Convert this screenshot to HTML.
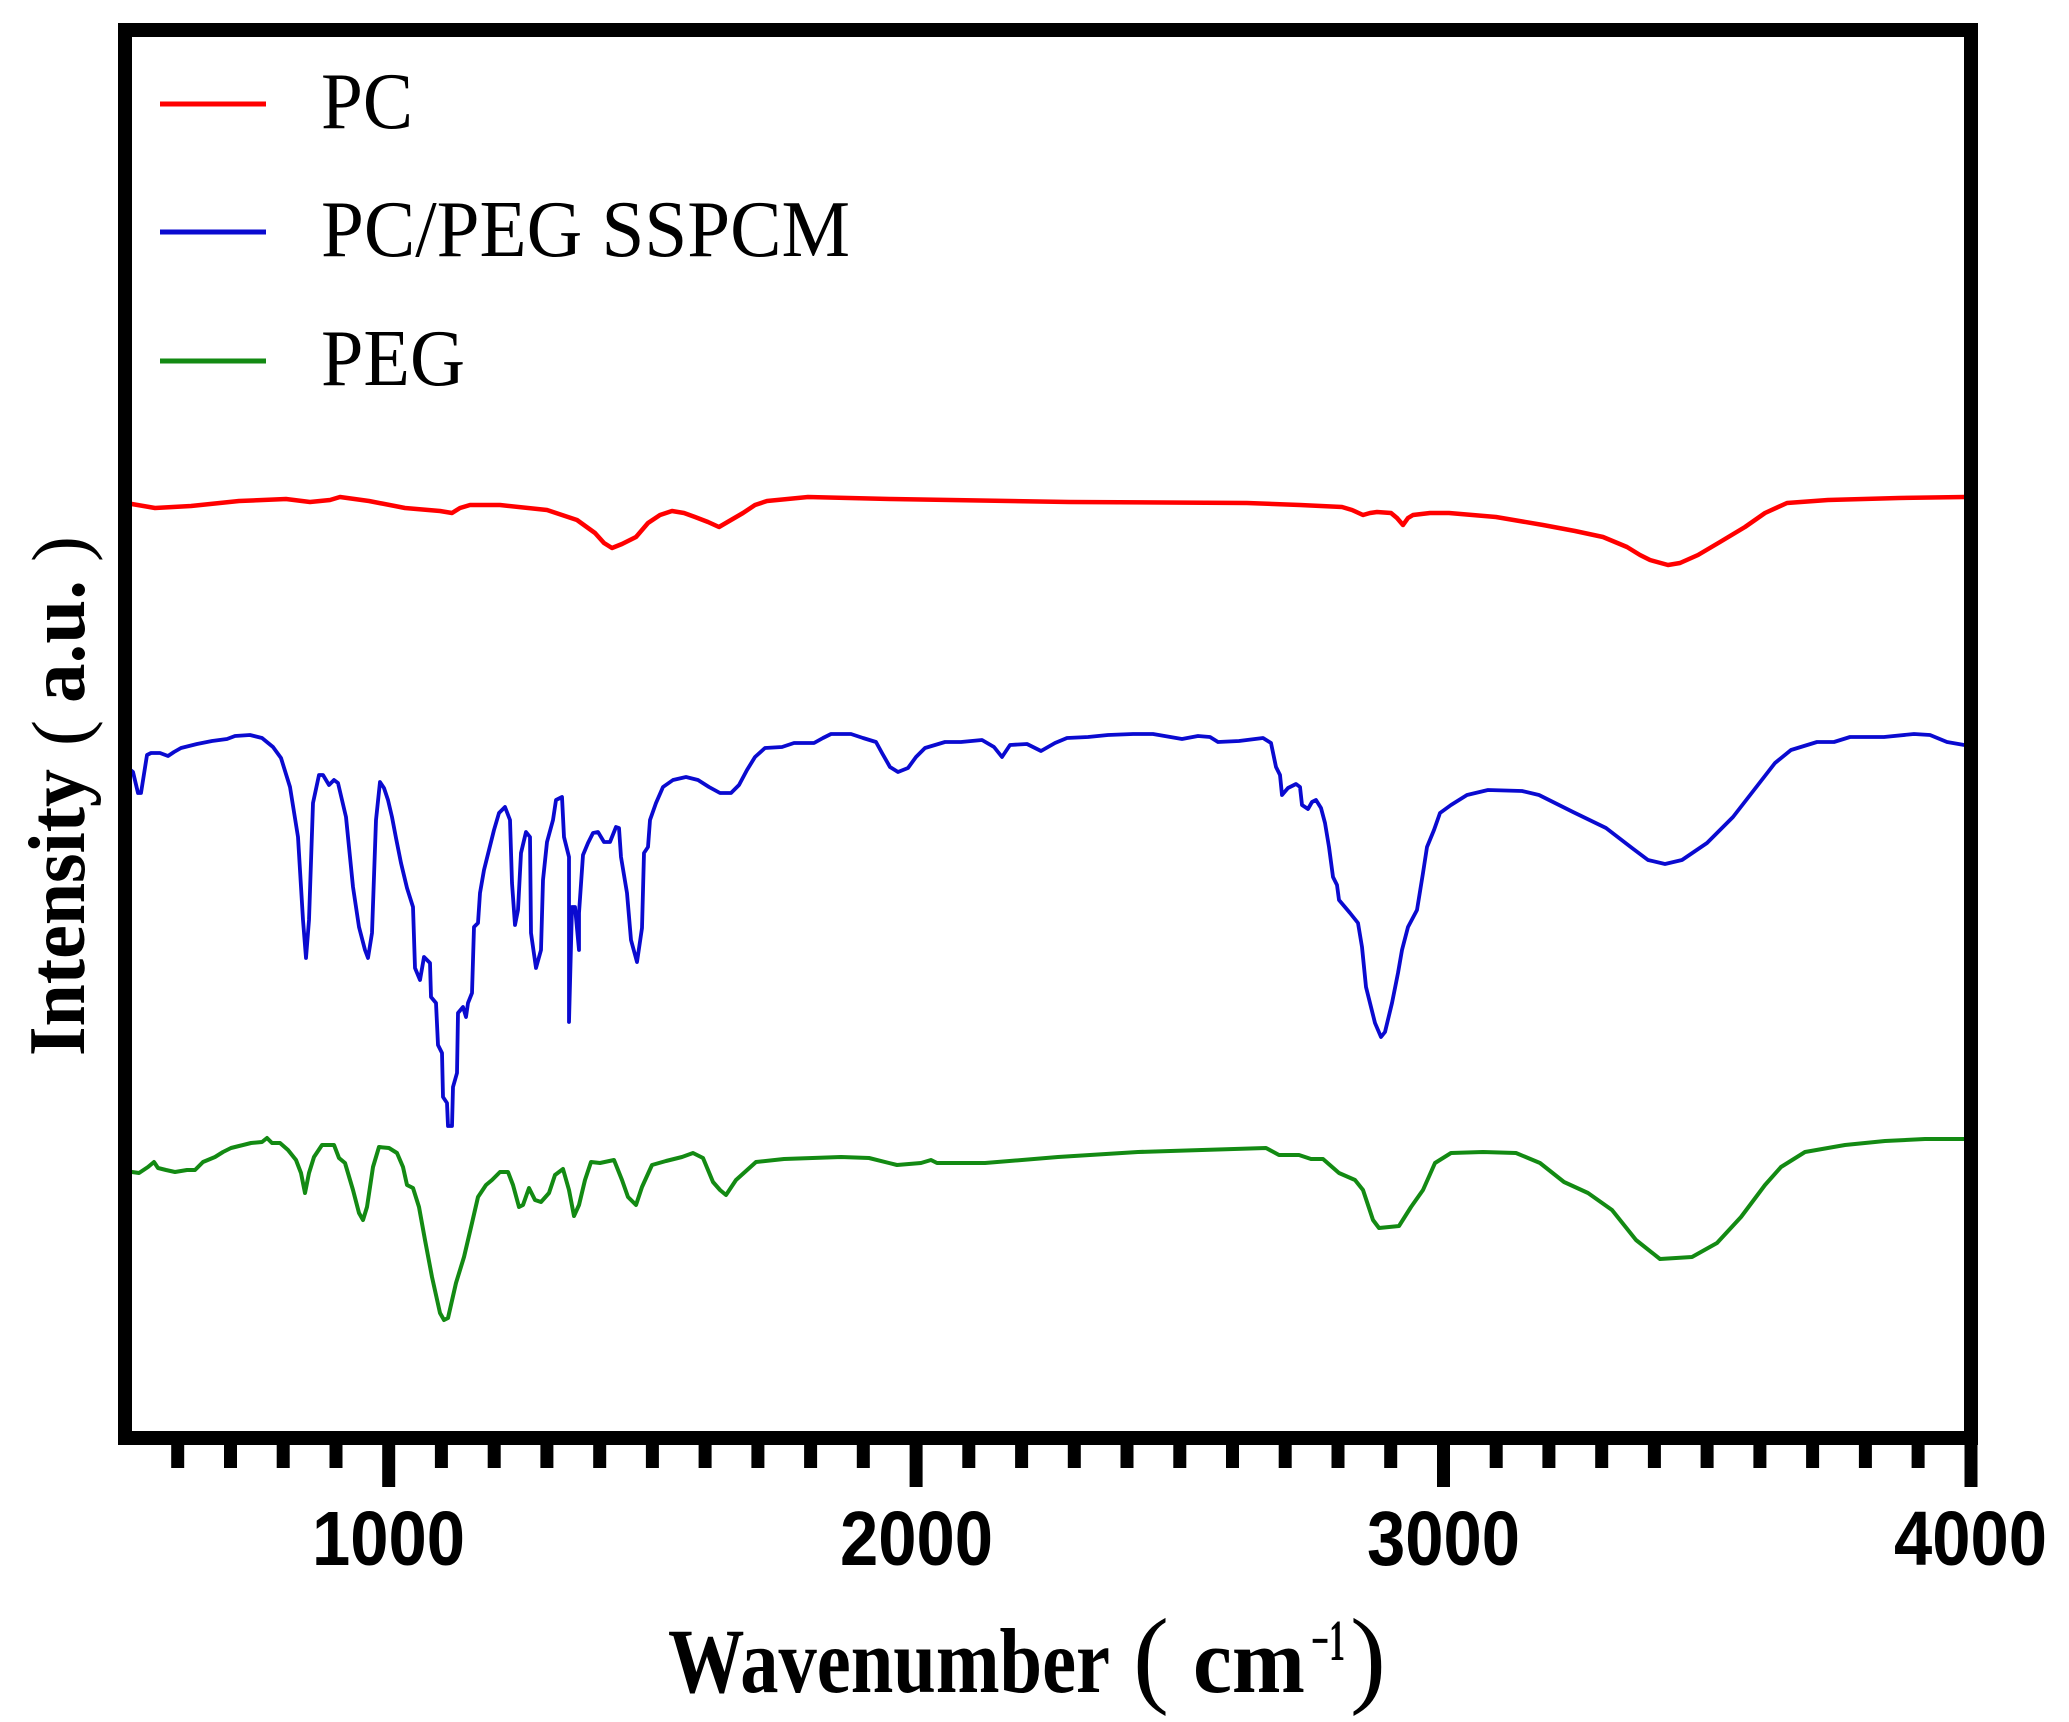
<!DOCTYPE html>
<html>
<head>
<meta charset="utf-8">
<style>
html,body{margin:0;padding:0;background:#fff;}
svg{display:block;}
</style>
</head>
<body>
<svg width="2069" height="1722" viewBox="0 0 2069 1722" xmlns="http://www.w3.org/2000/svg">
<rect x="0" y="0" width="2069" height="1722" fill="#fff"/>

<!-- series -->
<polyline fill="none" stroke="#ff0000" stroke-width="4.5" stroke-linejoin="round" points="126,503 155,508 191,506 239,501 286,499 310,502 330,500 340,497 369,501 405,508 440,511 452,513 460,508 470,505 500,505 547,510 577,520 595,533 604,543 612,548 622,544 636,537 648,523 660,515 672,511 684,513 695,517 708,522 719,527 731,520 743,513 755,505 767,501 808,497 891,499 1069,502 1247,503 1300,505 1342,507 1352,510 1363,515 1370,513 1377,512 1391,513 1397,518 1403,525 1408,518 1413,515 1430,513 1449,513 1496,517 1543,525 1575,531 1603,537 1627,547 1640,555 1650,560 1668,565 1680,563 1698,555 1720,542 1745,527 1765,513 1787,503 1828,500 1899,498 1965,497"/>

<polyline fill="none" stroke="#0a0ad0" stroke-width="3.8" stroke-linejoin="round" points="125,757 128,768 133,772 138,793 141,793 147,755 151,753 160,753 168,756 174,752 181,748 197,744 212,741 227,739 235,736 250,735 262,738 273,747 281,758 290,787 298,837 303,920 306,958 309,920 313,803 319,775 323,775 329,785 334,780 338,783 346,817 353,887 359,927 365,950 368,958 372,933 376,820 380,782 384,788 388,800 392,817 396,838 401,863 407,888 413,907 415,968 420,980 424,957 430,963 431,997 436,1003 438,1045 442,1053 443,1097 447,1103 448,1126 452,1126 453,1087 457,1073 458,1013 463,1007 466,1017 468,1003 472,993 474,927 478,923 480,893 484,870 489,850 494,830 499,813 505,807 510,820 512,883 515,925 518,910 521,853 526,832 530,837 531,933 536,968 541,950 543,880 547,842 553,820 556,800 562,797 564,837 569,857 569,1022 572,907 575,907 579,950 579,913 583,855 588,843 593,833 598,832 604,842 610,842 616,827 619,828 621,857 627,893 631,940 637,962 642,928 644,853 648,847 650,820 656,803 663,787 673,780 686,777 698,780 709,787 720,793 731,793 739,785 747,770 755,757 765,748 782,747 794,743 814,743 823,738 831,734 851,734 863,738 876,742 882,753 890,767 898,772 908,768 916,757 925,748 945,742 961,742 982,740 994,747 1002,757 1010,745 1027,744 1041,751 1055,743 1067,738 1088,737 1108,735 1133,734 1153,734 1182,739 1198,736 1210,737 1218,742 1239,741 1263,738 1271,743 1276,767 1280,775 1282,795 1288,788 1296,784 1300,787 1302,805 1308,809 1312,802 1316,800 1321,808 1325,823 1329,847 1333,877 1337,885 1339,900 1350,913 1358,923 1362,947 1366,987 1371,1007 1375,1023 1381,1037 1385,1032 1392,1003 1398,973 1402,950 1408,927 1417,910 1423,873 1427,847 1434,830 1440,813 1451,805 1467,795 1488,790 1522,791 1539,795 1573,812 1606,828 1632,848 1648,860 1665,864 1682,860 1707,843 1733,817 1754,790 1775,763 1791,750 1817,742 1834,742 1850,737 1884,737 1914,734 1930,735 1947,742 1970,746"/>

<polyline fill="none" stroke="#138a13" stroke-width="4" stroke-linejoin="round" points="124,1170 132,1172 139,1173 148,1167 154,1162 158,1168 166,1170 175,1172 187,1170 195,1170 203,1162 215,1157 223,1152 231,1148 239,1146 251,1143 262,1142 267,1138 272,1143 280,1143 288,1150 296,1160 301,1173 305,1193 309,1173 314,1157 322,1145 334,1145 339,1158 345,1163 353,1190 359,1213 363,1220 367,1207 373,1167 379,1147 389,1148 397,1153 403,1167 407,1185 413,1188 419,1207 425,1240 432,1277 440,1313 444,1320 448,1318 456,1283 464,1257 472,1223 478,1197 486,1185 492,1180 500,1172 508,1172 513,1185 519,1207 523,1205 529,1188 535,1200 541,1202 549,1193 555,1175 563,1169 569,1190 574,1216 579,1205 585,1180 591,1162 600,1163 614,1160 622,1180 628,1197 636,1205 642,1187 652,1165 666,1161 682,1157 693,1153 703,1158 713,1182 720,1190 726,1195 736,1180 756,1162 784,1159 841,1157 869,1158 897,1165 921,1163 931,1160 937,1163 985,1163 1058,1157 1138,1152 1202,1150 1266,1148 1279,1155 1299,1155 1311,1159 1323,1159 1339,1173 1355,1180 1363,1190 1373,1220 1379,1228 1399,1226 1411,1207 1423,1190 1435,1163 1451,1153 1483,1152 1516,1153 1540,1163 1564,1182 1588,1193 1612,1210 1636,1240 1660,1259 1692,1257 1717,1243 1741,1217 1765,1185 1781,1167 1805,1152 1845,1145 1885,1141 1925,1139 1966,1139"/>

<!-- frame -->
<rect x="125" y="30" width="1846" height="1408" fill="none" stroke="#000" stroke-width="14" stroke-linejoin="miter"/>

<!-- ticks -->
<g stroke="#000" stroke-width="13">
<line x1="177.7" y1="1438" x2="177.7" y2="1468"/>
<line x1="230.5" y1="1438" x2="230.5" y2="1468"/>
<line x1="283.2" y1="1438" x2="283.2" y2="1468"/>
<line x1="336.0" y1="1438" x2="336.0" y2="1468"/>
<line x1="388.7" y1="1438" x2="388.7" y2="1487"/>
<line x1="441.4" y1="1438" x2="441.4" y2="1468"/>
<line x1="494.2" y1="1438" x2="494.2" y2="1468"/>
<line x1="546.9" y1="1438" x2="546.9" y2="1468"/>
<line x1="599.7" y1="1438" x2="599.7" y2="1468"/>
<line x1="652.4" y1="1438" x2="652.4" y2="1468"/>
<line x1="705.1" y1="1438" x2="705.1" y2="1468"/>
<line x1="757.9" y1="1438" x2="757.9" y2="1468"/>
<line x1="810.6" y1="1438" x2="810.6" y2="1468"/>
<line x1="863.3" y1="1438" x2="863.3" y2="1468"/>
<line x1="916.1" y1="1438" x2="916.1" y2="1487"/>
<line x1="968.8" y1="1438" x2="968.8" y2="1468"/>
<line x1="1021.6" y1="1438" x2="1021.6" y2="1468"/>
<line x1="1074.3" y1="1438" x2="1074.3" y2="1468"/>
<line x1="1127.0" y1="1438" x2="1127.0" y2="1468"/>
<line x1="1179.8" y1="1438" x2="1179.8" y2="1468"/>
<line x1="1232.5" y1="1438" x2="1232.5" y2="1468"/>
<line x1="1285.2" y1="1438" x2="1285.2" y2="1468"/>
<line x1="1338.0" y1="1438" x2="1338.0" y2="1468"/>
<line x1="1390.7" y1="1438" x2="1390.7" y2="1468"/>
<line x1="1443.5" y1="1438" x2="1443.5" y2="1487"/>
<line x1="1496.2" y1="1438" x2="1496.2" y2="1468"/>
<line x1="1548.9" y1="1438" x2="1548.9" y2="1468"/>
<line x1="1601.7" y1="1438" x2="1601.7" y2="1468"/>
<line x1="1654.4" y1="1438" x2="1654.4" y2="1468"/>
<line x1="1707.1" y1="1438" x2="1707.1" y2="1468"/>
<line x1="1759.9" y1="1438" x2="1759.9" y2="1468"/>
<line x1="1812.6" y1="1438" x2="1812.6" y2="1468"/>
<line x1="1865.4" y1="1438" x2="1865.4" y2="1468"/>
<line x1="1918.1" y1="1438" x2="1918.1" y2="1468"/>
<line x1="1971.0" y1="1438" x2="1971.0" y2="1487"/>
</g>

<!-- tick labels -->
<g font-family="'Liberation Sans', Arial, sans-serif" font-weight="bold" font-size="77" fill="#000">
<text x="312" y="1565" textLength="153" lengthAdjust="spacingAndGlyphs">1000</text>
<text x="840" y="1565" textLength="153" lengthAdjust="spacingAndGlyphs">2000</text>
<text x="1367" y="1565" textLength="153" lengthAdjust="spacingAndGlyphs">3000</text>
<text x="1894" y="1565" textLength="153" lengthAdjust="spacingAndGlyphs">4000</text>
</g>

<!-- x axis title -->
<g font-family="'Liberation Serif', 'Times New Roman', serif" fill="#000">
<text x="668" y="1692" font-size="92" font-weight="bold" textLength="442" lengthAdjust="spacingAndGlyphs">Wavenumber</text>
<text x="1133" y="1693" font-size="108">(</text>
<text x="1193" y="1692" font-size="92" font-weight="bold" textLength="112" lengthAdjust="spacingAndGlyphs">cm</text>
<text x="1311" y="1660" font-size="58" font-weight="bold" textLength="34" lengthAdjust="spacingAndGlyphs">−1</text>
<text x="1350" y="1693" font-size="108">)</text>
</g>

<!-- y axis title -->
<g font-family="'Liberation Serif', 'Times New Roman', serif" fill="#000" transform="translate(84,1056) rotate(-90)">
<text x="0" y="0" font-size="80" font-weight="bold" textLength="287" lengthAdjust="spacingAndGlyphs">Intensity</text>
<text x="310" y="2" font-size="78">(</text>
<text x="353" y="0" font-size="80" font-weight="bold" textLength="123" lengthAdjust="spacingAndGlyphs">a.u.</text>
<text x="494" y="2" font-size="78">)</text>
</g>

<!-- legend -->
<g stroke-width="5">
<line x1="160" y1="104" x2="266" y2="104" stroke="#ff0000"/>
<line x1="160" y1="232" x2="266" y2="232" stroke="#0a0ad0"/>
<line x1="160" y1="361" x2="266" y2="361" stroke="#138a13"/>
</g>
<g font-family="'Liberation Serif', 'Times New Roman', serif" font-size="80" fill="#000">
<text x="321" y="128" textLength="92" lengthAdjust="spacingAndGlyphs">PC</text>
<text x="321" y="256" textLength="529" lengthAdjust="spacingAndGlyphs">PC/PEG SSPCM</text>
<text x="321" y="385" textLength="144" lengthAdjust="spacingAndGlyphs">PEG</text>
</g>
</svg>
</body>
</html>
